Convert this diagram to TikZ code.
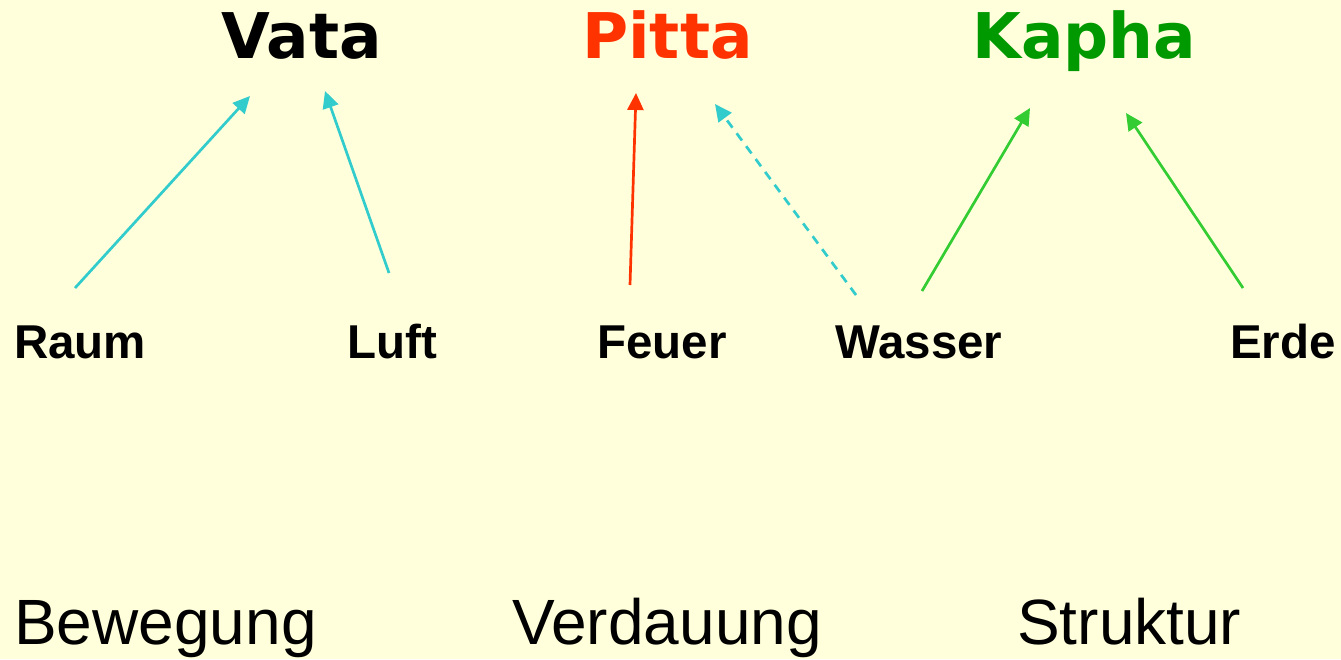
\documentclass[tikz,border=0pt]{standalone}
\usepackage{fontspec}
\setmainfont{Liberation Sans}
\newfontfamily\titlefont{DejaVu Sans}
\usetikzlibrary{arrows.meta}
\definecolor{bg}{HTML}{FFFFDC}
\definecolor{cyanline}{HTML}{33CCCC}
\definecolor{redline}{HTML}{FF3300}
\definecolor{greenline}{HTML}{33CC33}
\definecolor{kaphagreen}{HTML}{009900}
\tikzset{
  title/.style={anchor=base west, inner sep=0pt, font=\titlefont\bfseries\fontsize{63}{70}\selectfont},
  element/.style={anchor=base west, inner sep=0pt, font=\bfseries\fontsize{47.5}{52}\selectfont},
  quality/.style={anchor=base west, inner sep=0pt, font=\fontsize{64}{70}\selectfont},
  link/.style={line width=2.7pt, -{Triangle[length=17pt,width=16pt]}},
}
\begin{document}
\begin{tikzpicture}[x=1pt,y=-1pt]
\fill[bg] (0,0) rectangle (1341,659);
\useasboundingbox (0,0) rectangle (1341,659);

\node[title] (vata) at (221,58) {Vata};
\node[title, text=redline] (pitta) at (582,58) {Pitta};
\node[title, text=kaphagreen] (kapha) at (972,58) {Kapha};

\node[element] (raum) at (14,358) {Raum};
\node[element] (luft) at (347,358) {Luft};
\node[element] (feuer) at (597,358) {Feuer};
\node[element] (wasser) at (835,358) {Wasser};
\node[element] (erde) at (1230,358) {Erde};

\node[quality] (bewegung) at (14,644) {Bewegung};
\node[quality] (verdauung) at (512,644) {Verdauung};
\node[quality] (struktur) at (1017,644) {Struktur};

\coordinate (raumS) at (75,288);
\coordinate (vataA) at (250,96);
\coordinate (luftS) at (389,273);
\coordinate (vataB) at (325,91);
\coordinate (feuerS) at (630,285);
\coordinate (pittaA) at (636,93);
\coordinate (wasserS) at (856,295);
\coordinate (pittaB) at (715,104);
\coordinate (wasserT) at (922,291);
\coordinate (kaphaA) at (1030,108);
\coordinate (erdeS) at (1243,288);
\coordinate (kaphaB) at (1126,113);

\draw[link, cyanline] (raumS) -- (vataA);
\draw[link, cyanline] (luftS) -- (vataB);
\draw[link, redline] (feuerS) -- (pittaA);
\draw[link, cyanline, dash pattern=on 9pt off 7pt] (wasserS) -- (pittaB);
\draw[link, greenline] (wasserT) -- (kaphaA);
\draw[link, greenline] (erdeS) -- (kaphaB);
\end{tikzpicture}
\end{document}
